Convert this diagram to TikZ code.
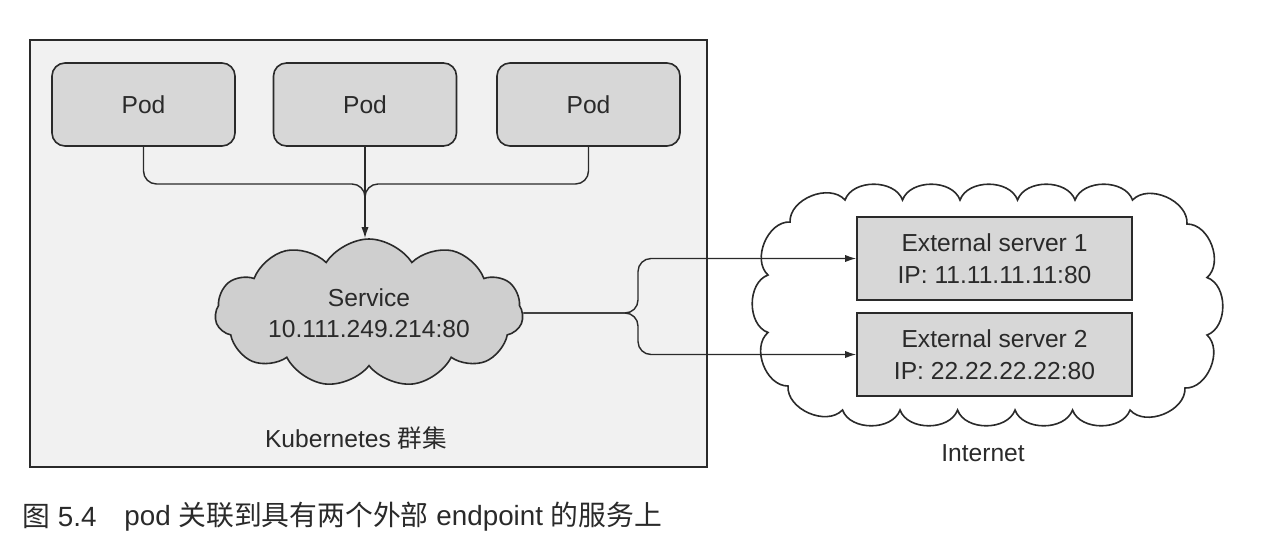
\documentclass[tikz,border=0pt]{standalone}
\usepackage{fontspec}
\setmainfont{Liberation Sans}
\newfontfamily\cjk{Noto Sans CJK SC}
\usetikzlibrary{shapes.symbols,arrows.meta}
\definecolor{inkc}{HTML}{2A2A2A}
\definecolor{clusterfill}{HTML}{F1F1F1}
\definecolor{podfill}{HTML}{D7D7D7}
\definecolor{svcfill}{HTML}{CFCFCF}
\begin{document}
\begin{tikzpicture}[x=0.5pt,y=-0.5pt,
  lbl/.style={font=\fontsize{12.3}{15.5}\selectfont, text=inkc},
  clusterbox/.style={draw=inkc, line width=0.9pt, fill=clusterfill, minimum width=338.5pt, minimum height=213.5pt, inner sep=0pt},
  podbox/.style={draw=inkc, line width=0.8pt, fill=podfill, rounded corners=6.5pt, minimum width=91.5pt, minimum height=41.5pt, inner sep=0pt, lbl},
  srvbox/.style={draw=inkc, line width=0.8pt, fill=podfill, minimum width=137.5pt, minimum height=41.5pt, inner sep=0pt, align=center, lbl, font=\fontsize{12.3}{16}\selectfont},
  svccloud/.style={cloud, cloud puffs=11, cloud puff arc=115, cloud ignores aspect, draw=inkc, line width=0.8pt, fill=svcfill, minimum width=154pt, minimum height=74pt, inner sep=0pt, align=center, lbl},
  netline/.style={draw=inkc, line width=0.8pt, fill=white},
  puff/.style={bend left=70},
  conn/.style={draw=inkc, line width=0.7pt},
  tip/.style={-{Latex[length=5.5pt,width=3.6pt]}},
  captxt/.style={font=\fontsize{13.9}{16}\selectfont, text=inkc, inner sep=0pt, anchor=west}
]
\useasboundingbox (0,0) rectangle (1272,558);
\fill[white] (0,0) rectangle (1272,558);

% Kubernetes cluster
\node[clusterbox] (cl) at (368.5,253.5) {};
\node[podbox] (pod1) at (143.5,104.5) {Pod};
\node[podbox] (pod2) at (365,104.5) {Pod};
\node[podbox] (pod3) at (588.5,104.5) {Pod};
\node[svccloud] (svc) at (369,313) {Service\\10.111.249.214:80};
\node[lbl] (kub) at (356,438) {Kubernetes {\cjk 群集}};

% Internet cloud (drawn directly)
\draw[netline] (845,200)
  to[puff] (902.5,200) to[puff] (960,200) to[puff] (1017.5,200)
  to[puff] (1075,200) to[puff] (1132.5,200) to[puff] (1187,224)
  to[puff] (1207,277.5) to[puff] (1207,335) to[puff] (1185,388)
  to[puff] (1130,410) to[puff] (1072.5,410) to[puff] (1015,410)
  to[puff] (957.5,410) to[puff] (900,410) to[puff] (842.5,410)
  to[puff] (788,386) to[puff] (768,332.5) to[puff] (768,275)
  to[puff] (790,222) to[puff] (845,200) -- cycle;
\node[srvbox] (srv1) at (994.5,258.5) {External server 1\\IP: 11.11.11.11:80};
\node[srvbox] (srv2) at (994.5,354.5) {External server 2\\IP: 22.22.22.22:80};
\node[lbl] (inet) at (983,453) {Internet};

% pod connectors
\coordinate (jn) at (pod2.south |- 0,184);
\coordinate (jd) at (pod2.south |- 0,206);
\draw[conn, rounded corners=6.5pt] (pod1.south) |- (jn) -- (jd);
\draw[conn, rounded corners=6.5pt] (pod3.south) |- (jn) -- (jd);
\draw[conn, tip] (pod2.south) -- (pod2.south |- svc.north);

% service to external servers
\coordinate (br) at (svc.east -| 638,0);
\draw[conn, tip, rounded corners=6.5pt] (svc.east) -- (br) |- (srv1.west);
\draw[conn, tip, rounded corners=6.5pt] (svc.east) -- (br) |- (srv2.west);

% caption
\node[captxt] (cap1) at (22,517) {{\cjk 图} 5.4};
\node[captxt] (cap2) at (124,517) {pod {\cjk 关联到具有两个外部} endpoint {\cjk 的服务上}};
\end{tikzpicture}
\end{document}
